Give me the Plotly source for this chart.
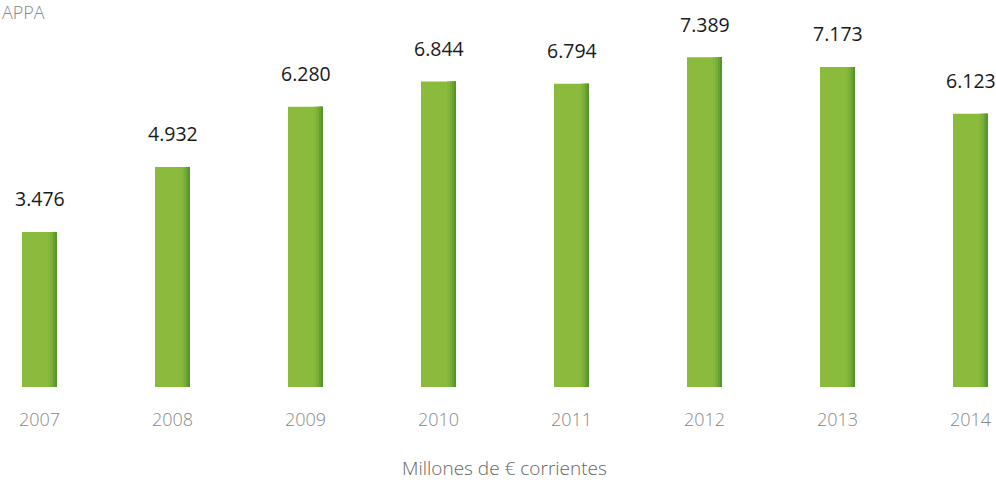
import plotly.graph_objects as go

years = ["2007", "2008", "2009", "2010", "2011", "2012", "2013", "2014"]
values = [3476, 4932, 6280, 6844, 6794, 7389, 7173, 6123]

PX_PER_CAT = 133.0
BAR_PX = 35.0
bar_w = BAR_PX / PX_PER_CAT

fig = go.Figure()
fig.add_trace(go.Bar(
    x=years, y=values, width=bar_w, offset=-bar_w / 2,
    marker=dict(color="#8bbb3d", line=dict(width=0)), hoverinfo="skip",
))
# right-edge shading strips
strips = [(26, "#84b73b"), (28.5, "#78ae37"), (31, "#66a231"), (33, "#55962c")]
for start_px, col in strips:
    w = (BAR_PX - start_px) / PX_PER_CAT
    fig.add_trace(go.Bar(
        x=years, y=values, width=w, offset=-bar_w / 2 + start_px / PX_PER_CAT,
        marker=dict(color=col, line=dict(width=0)), hoverinfo="skip",
    ))

for i, v in enumerate(values):
    fig.add_annotation(
        x=i, y=v, text=f"{v:,}".replace(",", "."), showarrow=False,
        yanchor="middle", yshift=33,
        font=dict(family="Open Sans", size=19.5, color="#1a1a1a", weight=400),
    )

fig.add_annotation(
    xref="paper", yref="paper", x=0, y=1, xanchor="left", yanchor="middle",
    yshift=18, text="APPA", showarrow=False,
    font=dict(family="Open Sans", size=18, color="#888888", weight=300),
)
fig.add_annotation(
    xref="paper", yref="paper", x=0.507, y=0, xanchor="center", yanchor="middle",
    yshift=-81, text="Millones de € corrientes", showarrow=False,
    font=dict(family="Open Sans", size=19, color="#666666", weight=300),
)

r0 = -39.5 / PX_PER_CAT
r1 = r0 + 996 / PX_PER_CAT
fig.update_layout(
    width=996, height=480, barmode="overlay", showlegend=False,
    margin=dict(l=0, r=0, t=30, b=93),
    plot_bgcolor="white", paper_bgcolor="white",
    xaxis=dict(type="category", range=[r0, r1], showgrid=False, zeroline=False,
               showline=False, ticks="outside", ticklen=16, tickcolor="rgba(0,0,0,0)",
               tickfont=dict(family="Open Sans", size=18, color="#888888", weight=300)),
    yaxis=dict(range=[0, 8000], visible=False),
)
fig.write_html("out.html", config={"displayModeBar": False},
               post_script="document.body.style.margin='0';document.body.style.overflow='hidden';")
